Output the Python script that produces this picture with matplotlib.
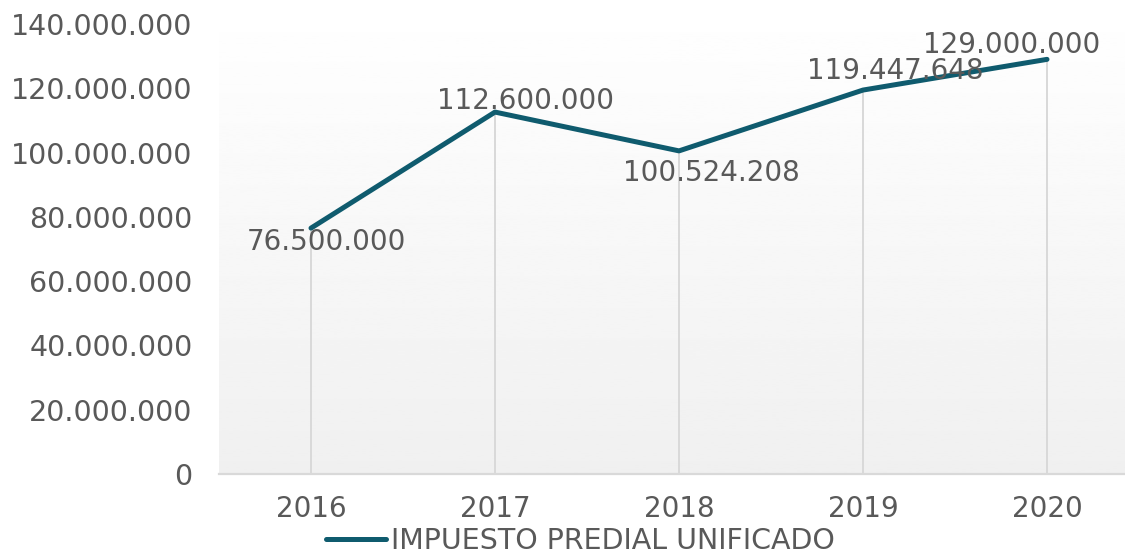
import numpy as np
import matplotlib.pyplot as plt
from matplotlib.ticker import FuncFormatter

# ---- data ----
years = ["2016", "2017", "2018", "2019", "2020"]
recaudo = [76500000, 112600000, 100524208, 119447648, 129000000]
serie = "IMPUESTO PREDIAL UNIFICADO"

# label offsets in pixels (dx, dy) relative to each point
label_off = [(15, -14), (30, 11), (32, -22), (32, 19), (-35, 14)]

LINE = "#0f5b6e"
TXT = "#595959"
GRID = "#d9d9d9"

fig = plt.figure(figsize=(11.25, 5.56), dpi=100)
fig.patch.set_facecolor("white")
ax = fig.add_axes([219 / 1125, 82 / 556, 920 / 1125, 450 / 556])

x = np.arange(len(years))
ax.set_xlim(-0.5, len(years) - 0.5)
ax.set_ylim(0, 140000000)

# soft vertical gradient behind the plot
grad = np.linspace(0.94, 0.997, 256).reshape(-1, 1)
ax.imshow(grad, extent=[0, 1, 0, 1], transform=ax.transAxes, cmap="gray",
          vmin=0, vmax=1, aspect="auto", origin="lower", zorder=0)

# drop lines
ax.vlines(x, 0, recaudo, color=GRID, lw=1.4, zorder=1)

ax.plot(x, recaudo, color=LINE, lw=3.6, solid_capstyle="round", zorder=3, label=serie)

fmt = lambda v: f"{int(v):,}".replace(",", ".")
for xi, v, (dx, dy) in zip(x, recaudo, label_off):
    ax.annotate(fmt(v), (xi, v), xytext=(dx, dy), textcoords="offset pixels",
                ha="center", va="center", fontsize=20, color=TXT, zorder=4)

ax.set_yticks(np.arange(0, 140000001, 20000000))
ax.yaxis.set_major_formatter(FuncFormatter(lambda v, p: fmt(v)))
ax.set_xticks(x)
ax.set_xticklabels(years)
ax.tick_params(axis="y", length=0, pad=19, labelsize=20.5, labelcolor=TXT)
ax.tick_params(axis="x", length=0, pad=15, labelsize=20, labelcolor=TXT)

for s in ["top", "right", "left"]:
    ax.spines[s].set_visible(False)
ax.spines["bottom"].set_color(GRID)
ax.spines["bottom"].set_linewidth(1.6)
ax.set_facecolor("white")

fig.legend(loc="center left", bbox_to_anchor=(326 / 1125, 15 / 556), frameon=False,
           fontsize=20.5, labelcolor=TXT, handlelength=2.1, handletextpad=0.2,
           borderpad=0, borderaxespad=0)

fig.savefig("out.png", dpi=100)
